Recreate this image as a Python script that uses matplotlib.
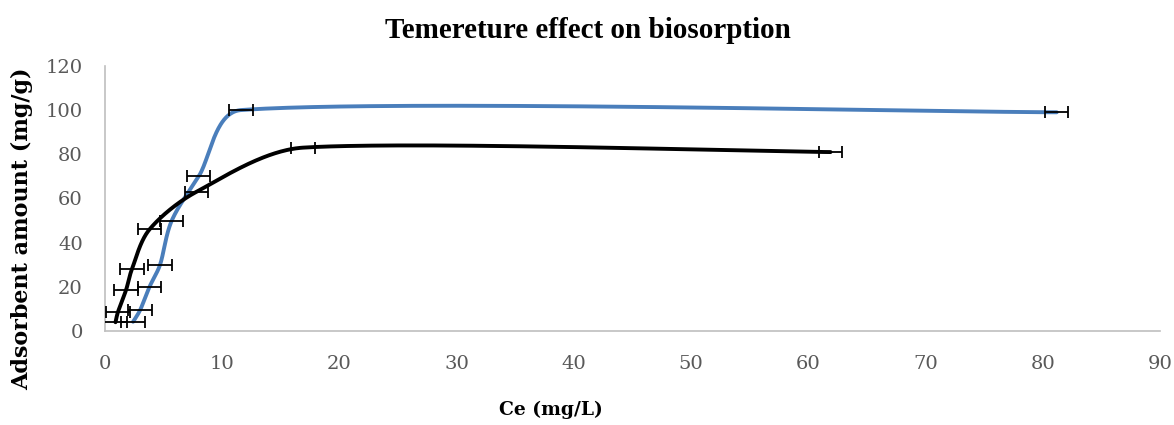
import numpy as np
import matplotlib
matplotlib.use("Agg")
import matplotlib.pyplot as plt

# data
blue_x = [2.4, 3.0, 3.8, 4.7, 5.7, 8.0, 11.6, 81.2]
blue_y = [4.2, 9.5, 20.0, 30.0, 50.0, 70.0, 100.0, 99.0]
black_x = [0.9, 1.1, 1.8, 2.3, 3.8, 7.8, 16.9, 61.9]
black_y = [4.0, 8.5, 18.6, 28.0, 46.0, 63.0, 83.0, 81.0]
x_err = 1.0

x_ticks = list(range(0, 91, 10))
y_ticks = list(range(0, 121, 20))


def smooth(xs, ys, sx=1055 / 90, sy=265 / 120, n=80):
    # Catmull-Rom like smoothing in screen space, handles clamped to a third of the segment
    p = np.column_stack([np.array(xs) * sx, np.array(ys) * sy])
    m = len(p)
    tang = np.array([(p[min(i + 1, m - 1)] - p[max(i - 1, 0)]) / 6 for i in range(m)])
    out = []
    t = np.linspace(0, 1, n)[:, None]
    for i in range(m - 1):
        p1, p2 = p[i], p[i + 1]
        L = np.linalg.norm(p2 - p1) / 3
        h1, h2 = tang[i], tang[i + 1]
        if np.linalg.norm(h1) > L:
            h1 = h1 / np.linalg.norm(h1) * L
        if np.linalg.norm(h2) > L:
            h2 = h2 / np.linalg.norm(h2) * L
        c1 = p1 + h1
        c2 = p2 - h2
        seg = ((1 - t) ** 3) * p1 + 3 * ((1 - t) ** 2) * t * c1 + 3 * (1 - t) * t ** 2 * c2 + t ** 3 * p2
        out.append(seg)
    out = np.vstack(out)
    return out[:, 0] / sx, out[:, 1] / sy


fig = plt.figure(figsize=(11.74, 4.25), dpi=100)
ax = fig.add_axes([0.0894, 0.221, 0.8986, 0.624])

bx, by = smooth(blue_x, blue_y)
kx, ky = smooth(black_x, black_y)
ax.plot(bx, by, color="#4a7ebb", lw=2.8, solid_capstyle="round", zorder=3)
ax.plot(kx, ky, color="black", lw=2.8, solid_capstyle="round", zorder=3)

for xs, ys in [(blue_x, blue_y), (black_x, black_y)]:
    ax.errorbar(xs, ys, xerr=x_err, fmt="none", ecolor="black", elinewidth=1.3,
                capsize=4, capthick=1.3, zorder=4)

ax.set_xlim(0, 90)
ax.set_ylim(0, 120)
ax.set_xticks(x_ticks)
ax.set_yticks(y_ticks)
ax.tick_params(axis="x", length=0, labelsize=14, labelcolor="#595959", pad=17)
ax.tick_params(axis="y", length=0, labelsize=14, labelcolor="#595959", pad=16)
for lab in ax.get_xticklabels() + ax.get_yticklabels():
    lab.set_family("DejaVu Serif")
for side in ["top", "right"]:
    ax.spines[side].set_visible(False)
for side in ["left", "bottom"]:
    ax.spines[side].set_color("#bfbfbf")
    ax.spines[side].set_linewidth(1.2)

fig.text(588 / 1174, 1 - 30 / 425, "Temereture effect on biosorption", family="Liberation Serif",
         fontweight="bold", fontsize=21, ha="center", va="center")
fig.text(551 / 1174, 1 - 410 / 425, "Ce (mg/L)", family="DejaVu Serif", fontweight="bold",
         fontsize=13.5, ha="center", va="center")
fig.text(22 / 1174, 1 - 229 / 425, "Adsorbent amount (mg/g)", family="DejaVu Serif",
         fontweight="bold", fontsize=16, rotation=90, ha="center", va="center")

fig.savefig("out.png", dpi=100)
